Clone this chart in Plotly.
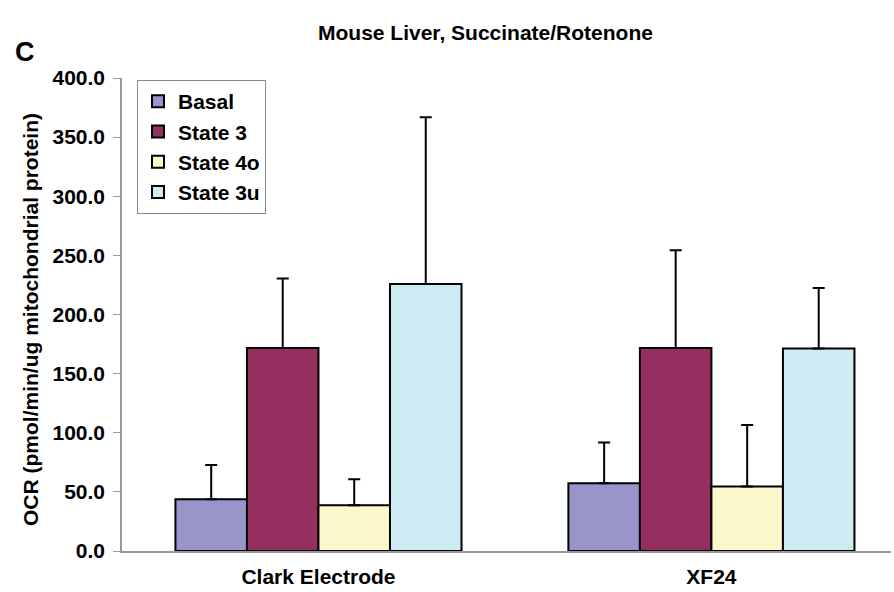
import plotly.graph_objects as go

categories = ["Clark Electrode", "XF24"]
series_names = ["Basal", "State 3", "State 4o", "State 3u"]
basal = [43.7, 57.2]
state3 = [171.7, 171.7]
state4o = [38.6, 54.5]
state3u = [225.8, 171.2]
basal_err = [29.0, 34.5]
state3_err = [58.7, 82.6]
state4o_err = [22.0, 52.1]
state3u_err = [141.0, 51.2]
y_ticks = [0, 50, 100, 150, 200, 250, 300, 350, 400]

values = [basal, state3, state4o, state3u]
errors = [basal_err, state3_err, state4o_err, state3u_err]
colors = ["#9795C9", "#952F60", "#FAF8CA", "#CDEBF2"]

W, H = 894, 592
ml, mr, mt, mb = 122, 3, 78, 41
pw = W - ml - mr
ph = H - mt - mb

fig = go.Figure()
for i, (name, vals, errs, col) in enumerate(zip(series_names, values, errors, colors)):
    fig.add_trace(go.Bar(
        x=categories, y=vals, name=name, legendgroup=name,
        marker=dict(color=col, line=dict(color="black", width=2)),
        error_y=dict(type="data", array=errs, arrayminus=[0] * len(errs),
                     symmetric=False, color="black", thickness=2, width=6),
    ))

font_family = "Liberation Sans, Arial, sans-serif"
fig.update_layout(
    width=W, height=H,
    margin=dict(l=ml, r=mr, t=mt, b=mb),
    paper_bgcolor="white", plot_bgcolor="white",
    barmode="group", bargap=0.272, bargroupgap=0,
    font=dict(family=font_family, color="black", size=21),
    showlegend=True,
    legend=dict(
        x=(137 - ml) / pw, y=1 - (80 - mt) / ph, xanchor="left", yanchor="top",
        bgcolor="white", bordercolor="#888888", borderwidth=1,
        font=dict(size=21, weight="bold", family=font_family),
        traceorder="grouped", tracegroupgap=0,
    ),
    xaxis=dict(
        range=[-0.5, 1.457], showline=True, linecolor="#999999", linewidth=1.5,
        ticks="", tickfont=dict(size=21, weight="bold"), ticklabelstandoff=6,
        showgrid=False, zeroline=False,
    ),
    yaxis=dict(
        range=[0, 400], tickvals=y_ticks, tickformat=".1f",
        showline=True, linecolor="#999999", linewidth=1.5,
        ticks="outside", ticklen=7, tickcolor="#999999",
        tickfont=dict(size=21, weight="bold"), ticklabelstandoff=4,
        showgrid=False, zeroline=False,
    ),
    annotations=[
        dict(text="<b>Mouse Liver, Succinate/Rotenone</b>", xref="paper", yref="paper",
             x=(485 - ml) / pw, y=1 + (mt - 32) / ph, xanchor="center", yanchor="middle",
             showarrow=False, font=dict(size=21)),
        dict(text="<b>C</b>", xref="paper", yref="paper",
             x=(25 - ml) / pw, y=1 + (mt - 52) / ph, xanchor="center", yanchor="middle",
             showarrow=False, font=dict(size=27)),
        dict(text="<b>OCR (pmol/min/ug mitochondrial protein)</b>", xref="paper", yref="paper",
             x=(30 - ml) / pw, y=1 - (320 - mt) / ph, xanchor="center", yanchor="middle",
             textangle=-90, showarrow=False, font=dict(size=21)),
    ],
)

fig.write_html("out.html")
